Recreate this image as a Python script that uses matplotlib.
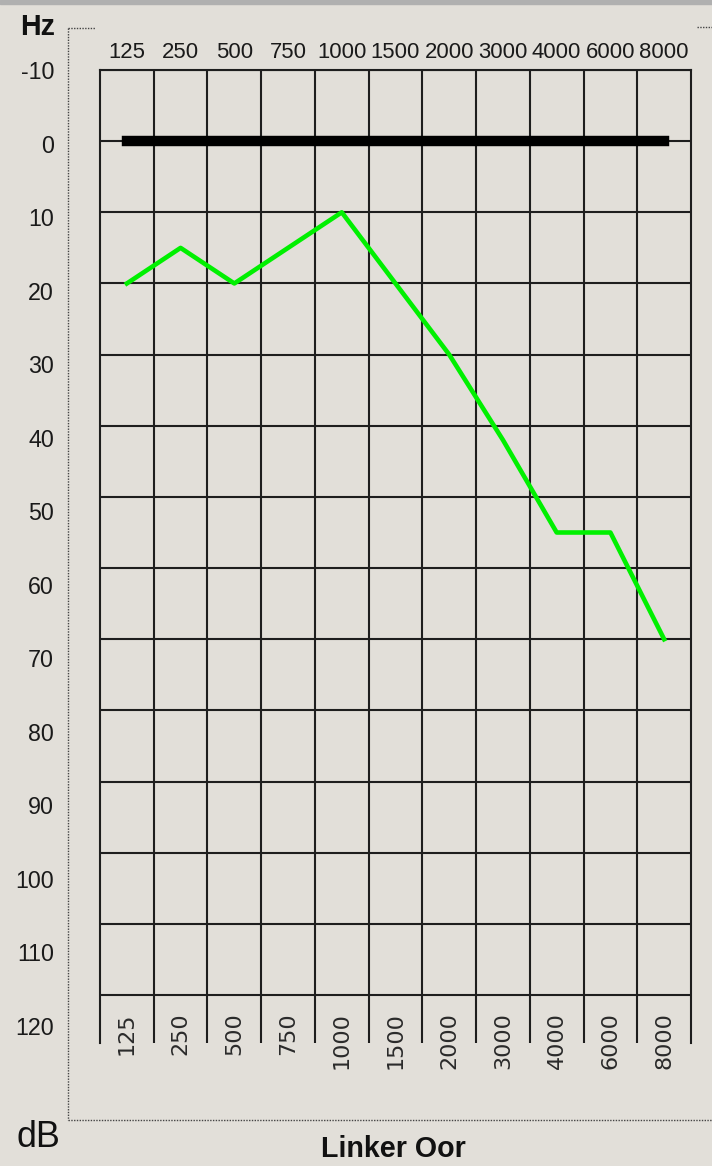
import matplotlib
matplotlib.use("Agg")
import matplotlib.pyplot as plt
from matplotlib import font_manager
import numpy as np

# audiogram, left ear
freq_labels = ["125", "250", "500", "750", "1000", "1500", "2000", "3000", "4000", "6000", "8000"]
left_ear_db = [20, 15, 20, 15, 10, 20, 30, 42, 55, 55, 70]
reference_db = [0, 0, 0, 0, 0, 0, 0, 0, 0, 0, 0]
db_levels = list(range(-10, 121, 10))

bg = "#e2dfd9"
grid_col = "#1e1e1e"

names = {f.name for f in font_manager.fontManager.ttflist}
if "Liberation Sans Narrow" in names:
    narrow = dict(family="Liberation Sans Narrow")
    k = 1.0
else:
    narrow = dict(family="Liberation Sans")
    k = 0.86

W, H = 712, 1166
fig = plt.figure(figsize=(W / 100, H / 100), dpi=100, facecolor=bg)


def box(l, t, r, b):
    return [l / W, 1 - b / H, (r - l) / W, (b - t) / H]


# main grid
ax = fig.add_axes(box(100, 70, 691, 1043))
ax.set_facecolor(bg)
x = np.arange(len(freq_labels))
px_per_db = (995 - 70) / 130
ax.set_xlim(-0.5, len(freq_labels) - 0.5)
ax.set_ylim(120 + 48 / px_per_db, -10)

ax.hlines(db_levels, -0.5, len(freq_labels) - 0.5, color=grid_col, lw=1.5, zorder=1)
ax.vlines(np.arange(0.5, len(freq_labels) - 1), 120 + 48 / px_per_db, -10,
          color=grid_col, lw=1.5, zorder=1)
for side in ["top", "left", "right"]:
    ax.spines[side].set_color(grid_col)
    ax.spines[side].set_linewidth(1.5)
ax.spines["bottom"].set_visible(False)

ax.plot(x, reference_db, color="black", lw=7.5, solid_capstyle="projecting", zorder=3)
ax.plot(x, left_ear_db, color="#00f000", lw=3.3, zorder=4)

ax.set_xticks(x)
ax.set_xticklabels(freq_labels, fontsize=18.5 * k, color="#1a1a1a", **narrow)
ax.xaxis.tick_top()
ax.tick_params(axis="x", length=0, pad=5)
ax.set_yticks([])

sec = ax.secondary_xaxis("bottom")
sec.set_xticks(x, freq_labels, rotation=90, fontsize=16, family="DejaVu Sans", color="#2a2a2a")
sec.tick_params(length=0, pad=-22)
sec.spines["bottom"].set_visible(False)

# dB labels on the left
lab_ax = fig.add_axes([54 / W, 0, 0.001, 1])
lab_ax.set_ylim(55 + (H - 548) / 7.352, 55 - 548 / 7.352)
lab_ax.set_yticks(db_levels)
lab_ax.set_yticklabels([str(v) for v in db_levels], fontsize=19.5 * k, color="#1a1a1a", **narrow)
lab_ax.tick_params(length=0, pad=0)
lab_ax.set_xticks([])
for s in lab_ax.spines.values():
    s.set_visible(False)
lab_ax.patch.set_visible(False)

# frame, dotted box and captions
ov = fig.add_axes([0, 0, 1, 1], zorder=-1)
ov.set_xlim(0, W)
ov.set_ylim(H, 0)
ov.axis("off")
dots = dict(ls=(0, (1, 1)), lw=1, color="#444444")
ov.plot([68, 68], [28, 1120], **dots)
ov.plot([68, W], [1120, 1120], **dots)
ov.plot([68, 95], [28, 28], **dots)
ov.plot([697, W], [27, 27], **dots)
ov.axhspan(0, 4, color="#b0b0b0")

ov.text(38, 35, "Hz", ha="center", va="baseline", fontsize=24 * k, weight="bold", color="#111111", **narrow)
ov.text(38, 1147, "dB", ha="center", va="baseline", fontsize=30 * k, color="#111111", **narrow)
ov.text(393, 1157, "Linker Oor", ha="center", va="baseline", fontsize=24 * k, weight="bold",
        color="#111111", **narrow)

plt.savefig("out.png", dpi=100, facecolor=bg)
